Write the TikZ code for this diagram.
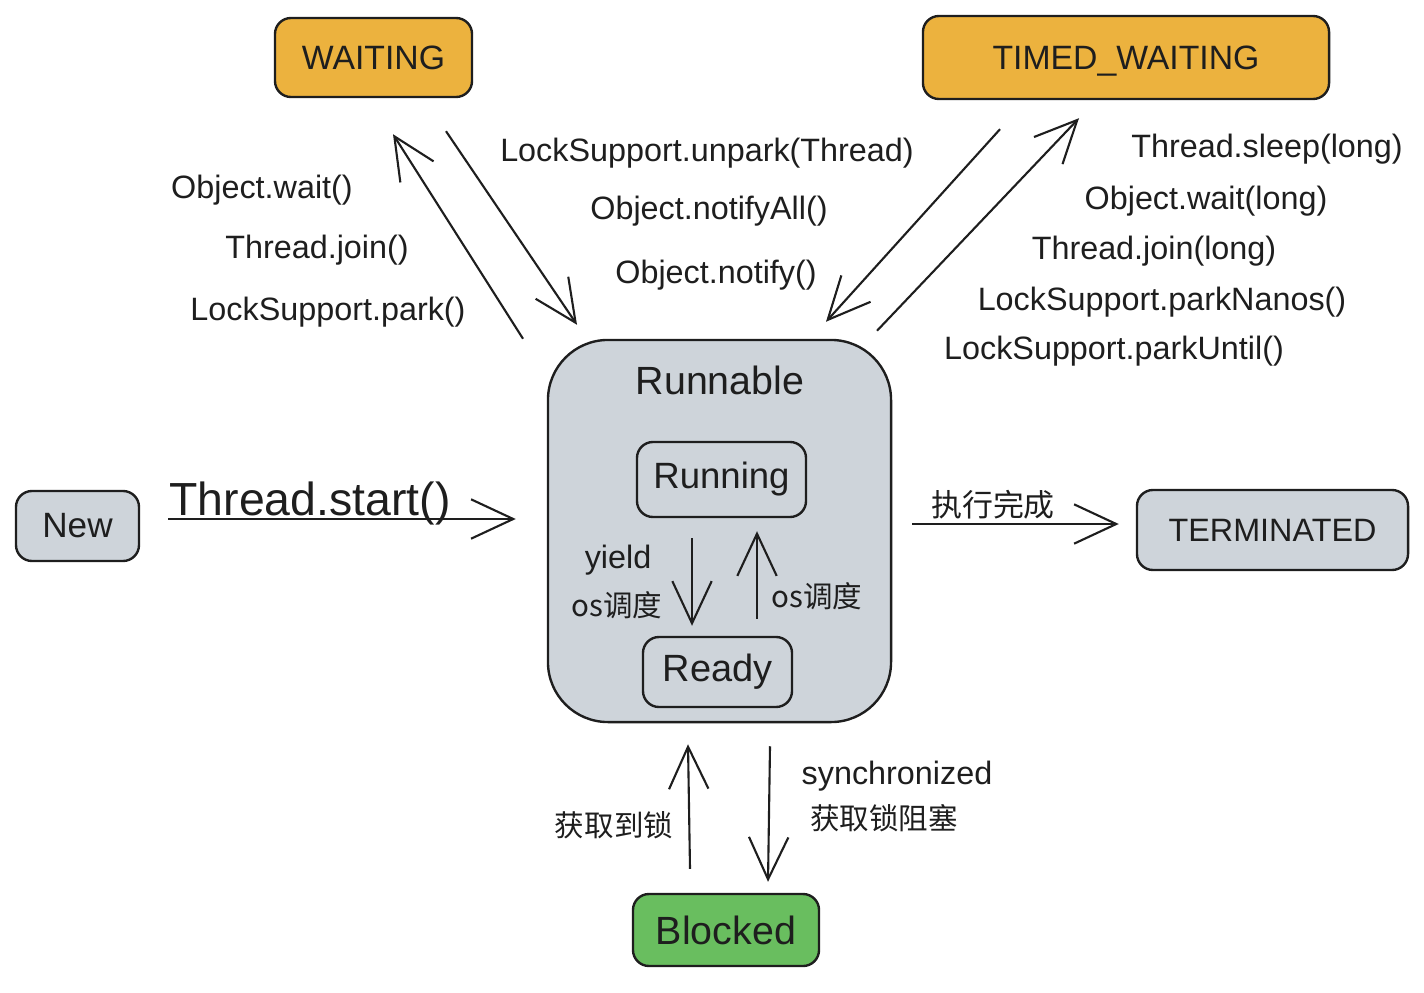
\documentclass[tikz,border=0pt]{standalone}
\usepackage{fontspec}
\setmainfont{Liberation Sans}
\newfontfamily\cjk{Noto Sans CJK SC}
\usetikzlibrary{arrows.meta}
\definecolor{orangefill}{RGB}{236,178,62}
\definecolor{grayfill}{RGB}{206,212,218}
\definecolor{greenfill}{RGB}{105,190,95}
\definecolor{ink}{RGB}{30,30,30}
\tikzset{
  state/.style={draw=ink, line width=1.7pt, rounded corners=0.4cm, inner sep=0pt, text=ink},
  conn/.style={draw=ink, line width=1.5pt, -{Straight Barb[length=30pt,width=28pt]}},
  lbl/.style={text=ink, font=\fontsize{23}{26}\selectfont, inner sep=0pt},
  cjklbl/.style={text=ink, font=\cjk\fontsize{21}{24}\selectfont, inner sep=0pt},
}
\begin{document}
\begin{tikzpicture}[x=0.025cm, y=-0.025cm]
\useasboundingbox (0,0) rectangle (1424,992);
% states
\node[state, fill=orangefill, minimum width=4.925cm, minimum height=1.975cm,
      font=\fontsize{24}{26}\selectfont] (waiting) at (373.5,57.5) {WAITING};
\node[state, fill=orangefill, minimum width=10.15cm, minimum height=2.075cm,
      font=\fontsize{24}{26}\selectfont, text depth=0pt] (timed) at (1126,57.5) {TIMED\_WAITING};
\node[state, fill=grayfill, minimum width=8.575cm, minimum height=9.55cm,
      rounded corners=1.5cm] (runnable) at (719.5,531) {};
\node[text=ink, font=\fontsize{28}{30}\selectfont, inner sep=0pt] (runlbl) at (720,380) {Runnable};
\node[state, fill=grayfill, minimum width=4.225cm, minimum height=1.875cm,
      font=\fontsize{26}{28}\selectfont] (running) at (721.5,479.5) {Running};
\node[state, fill=grayfill, minimum width=3.725cm, minimum height=1.75cm,
      font=\fontsize{27}{29}\selectfont] (ready) at (717.5,672) {Ready};
\node[state, fill=grayfill, minimum width=3.075cm, minimum height=1.75cm,
      font=\fontsize{25}{27}\selectfont] (new) at (77.5,526) {New};
\node[state, fill=grayfill, minimum width=6.775cm, minimum height=2cm,
      font=\fontsize{23}{25}\selectfont] (term) at (1272.5,530) {TERMINATED};
\node[state, fill=greenfill, minimum width=4.65cm, minimum height=1.8cm,
      font=\fontsize{28}{30}\selectfont] (blocked) at (726,930) {Blocked};

% connectors
\draw[conn] ([shift={(28,-7)}]new.east) -- ([shift={(-31,-12)}]runnable.west);
\draw[conn] ([shift={(20,-7)}]runnable.east) -- ([shift={(-17,-6)}]term.west);
\draw[conn] ([shift={(-196.5,0)}]runnable.north) -- ([shift={(19.5,36)}]waiting.south);
\draw[conn] ([shift={(72.5,33)}]waiting.south) -- ([shift={(-142.5,-14)}]runnable.north);
\draw[conn] ([shift={(-126,29)}]timed.south) -- ([shift={(106.5,-17)}]runnable.north);
\draw[conn] ([shift={(157.5,-8)}]runnable.north) -- ([shift={(-47,18)}]timed.south);
\draw[conn] ([shift={(-29.5,20)}]running.south) -- ([shift={(-25.5,-10)}]ready.north);
\draw[conn] ([shift={(39.5,-17)}]ready.north) -- ([shift={(35.5,13)}]running.south);
\draw[conn] ([shift={(-36,-24)}]blocked.north) -- ([shift={(-31.5,21)}]runnable.south);
\draw[conn] ([shift={(50.5,23)}]runnable.south) -- ([shift={(42,-11)}]blocked.north);

% labels
\node[text=ink, font=\fontsize{33}{35}\selectfont, inner sep=0pt] (lstart) at (310,503) {Thread.start()};
\node[cjklbl, font=\cjk\fontsize{22}{24}\selectfont] (ldone) at (993,505) {执行完成};
\node[lbl] (l1) at (262,190) {Object.wait()};
\node[lbl] (l2) at (317,250) {Thread.join()};
\node[lbl] (l3) at (328,312) {LockSupport.park()};
\node[lbl] (l4) at (707,153) {LockSupport.unpark(Thread)};
\node[lbl] (l5) at (709,211) {Object.notifyAll()};
\node[lbl] (l6) at (716,275) {Object.notify()};
\node[lbl] (l7) at (1267,149) {Thread.sleep(long)};
\node[lbl] (l8) at (1206,201) {Object.wait(long)};
\node[lbl] (l9) at (1154,251) {Thread.join(long)};
\node[lbl] (l10) at (1162,302) {LockSupport.parkNanos()};
\node[lbl] (l11) at (1114,351) {LockSupport.parkUntil()};
\node[lbl] (lyield) at (618,560) {yield};
\node[cjklbl] (los1) at (617,605) {os调度};
\node[cjklbl] (los2) at (817,596) {os调度};
\node[cjklbl] (lget) at (614,825) {获取到锁};
\node[lbl] (lsync) at (897,776) {synchronized};
\node[cjklbl] (lblk) at (884,818) {获取锁阻塞};
\end{tikzpicture}
\end{document}
